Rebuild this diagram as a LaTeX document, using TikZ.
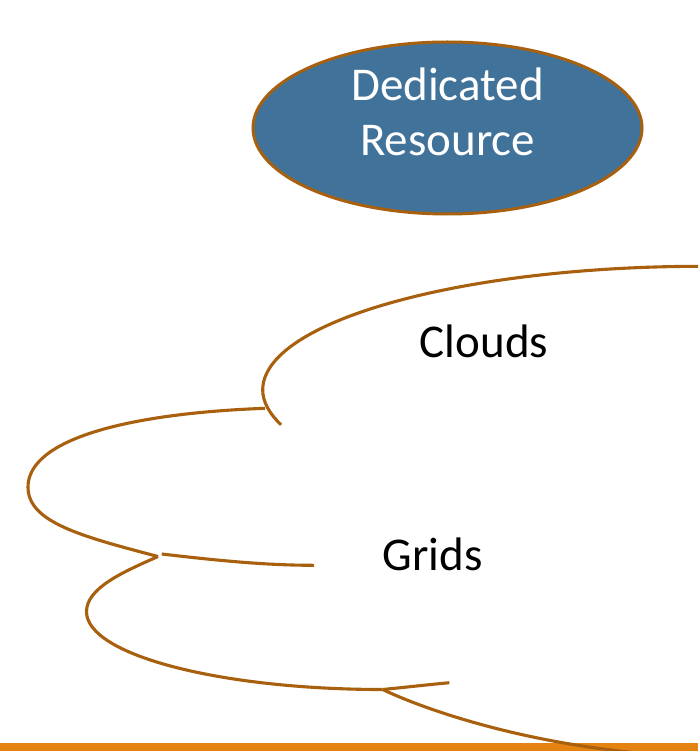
\documentclass[tikz,border=0pt]{standalone}
\usepackage{fontspec}
\setmainfont{Carlito}
\usetikzlibrary{shapes.geometric}
\definecolor{edgebrown}{RGB}{168,96,14}
\definecolor{blobblue}{RGB}{65,114,154}
\definecolor{barorange}{RGB}{228,130,18}
\tikzset{
  curveline/.style={draw=edgebrown, line width=3.1pt, line cap=butt},
  lbl/.style={font=\fontsize{47}{56}\selectfont, anchor=base, inner sep=0pt},
}
\begin{document}
\begin{tikzpicture}[x=1pt,y=-1pt]
\useasboundingbox (0,0) rectangle (698,751);
\fill[white] (0,0) rectangle (698,751);
% bottom bar
\fill[barorange] (0,742.5) rectangle (698,751);

% dedicated resource ellipse
\node[ellipse, draw=edgebrown, fill=blobblue, line width=3pt,
      minimum width=389pt, minimum height=172pt, inner sep=0pt] (ded) at (447.5,128) {};
\node[lbl, text=white] (dedA) at (447.5,101) {Dedicated};
\node[lbl, text=white] (dedB) at (447.5,156) {Resource};

% cloud outline pieces
\coordinate (a0) at (702,266.3);
\coordinate (aL) at (262.7,390);
\coordinate (aE) at (281,424.8);
\coordinate (b0) at (265,408.3);
\coordinate (bL) at (28,487);
\coordinate (bE) at (158,556.5);
\coordinate (c0) at (161.7,554);
\coordinate (cE) at (314,565.3);
\coordinate (dL) at (86.5,611.7);
\coordinate (dB) at (382.7,689.5);
\coordinate (eE) at (449.3,682.7);
\coordinate (fE) at (680,756);
\begin{scope}
\clip (0,0) rectangle (698,751);
\draw[curveline] (a0) .. controls (460.8,266.3) and (262.7,321.5) .. (aL)
  .. controls (262.7,401.8) and (269.3,413.5) .. (aE);
\draw[curveline] (b0) .. controls (125,413.5) and (28,440) .. (bL)
  .. controls (28,522) and (80,536) .. (bE);
\draw[curveline] (c0) .. controls (212,559.8) and (262,565.3) .. (cE);
\draw[curveline] (bE) .. controls (123,572) and (86.5,588) .. (dL)
  .. controls (86.5,654.8) and (219.3,689.5) .. (dB);
\draw[curveline] (dB) .. controls (405,687.3) and (427,684.8) .. (eE);
\draw[curveline] (dB) .. controls (430,712) and (540,749) .. (fE);
\end{scope}

\node[lbl] (clouds) at (484,357) {Clouds};
\node[lbl] (grids) at (432.5,570) {Grids};
\end{tikzpicture}
\end{document}
